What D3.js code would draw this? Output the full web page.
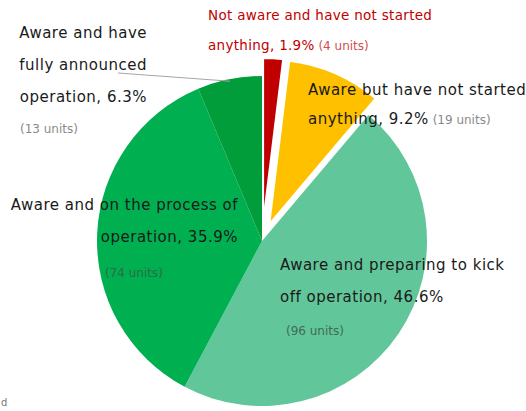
<!DOCTYPE html>
<html>
<head>
<meta charset="utf-8">
<script src="https://cdn.jsdelivr.net/npm/d3@7"></script>
<style>
  body { margin: 0; background: #fff; }
  svg { display: block; font-family: "DejaVu Sans", sans-serif; }
</style>
</head>
<body>
<div class="chart"></div>
<script>
const svgWidth = 526
const svgHeight = 411

// categories in clockwise order from 12 o'clock
const categories = [
  "Not aware and have not started anything",
  "Aware but have not started anything",
  "Aware and preparing to kick off operation",
  "Aware and on the process of operation",
  "Aware and have fully announced operation"
]
const units = [4, 19, 96, 74, 13]
const percents = ["1.9%", "9.2%", "46.6%", "35.9%", "6.3%"]
const colors = ["#c00000", "#ffc000", "#62c69b", "#00b050", "#009d3a"]
const exploded = [true, true, false, false, false]

// label text lines for each slice
const labelLines = [
  ["Not aware and have not started", "anything, 1.9%"],
  ["Aware but have not started", "anything, 9.2%"],
  ["Aware and preparing to kick", "off operation, 46.6%"],
  ["Aware and on the process of", "operation, 35.9%"],
  ["Aware and have", "fully announced", "operation, 6.3%"]
]

let cx = 262
let cy = 241
let radius = 165
let explode = 18

let svg = d3
  .select(".chart")
  .append("svg")
  .attr("width", svgWidth)
  .attr("height", svgHeight)

let pieGroup = svg.append("g")
  .attr("transform", `translate(${cx}, ${cy})`)

let pie = d3.pie().sort(null).value(d => d)
let arcs = pie(units)

let arc = d3.arc().innerRadius(0).outerRadius(radius)

function offset(d, i) {
  if (!exploded[i]) return [0, 0]
  let mid = (d.startAngle + d.endAngle) / 2
  return [Math.sin(mid) * explode, -Math.cos(mid) * explode]
}

pieGroup.selectAll("path")
  .data(arcs)
  .enter()
  .append("path")
  .attr("d", arc)
  .attr("fill", (d, i) => colors[i])
  .attr("stroke", (d, i) => exploded[i] ? "#fff" : "none")
  .attr("stroke-width", 2)
  .attr("transform", (d, i) => `translate(${offset(d, i)})`)

// leader line for the small dark green slice
let dg = arcs[4]
let dgMid = (dg.startAngle + dg.endAngle) / 2
svg.append("polyline")
  .attr("points", [
    [118, 73],
    [cx + Math.sin(dgMid) * (radius - 2), cy - Math.cos(dgMid) * (radius - 2)]
  ].join(" "))
  .attr("fill", "none")
  .attr("stroke", "#a6a6a6")
  .attr("stroke-width", 1)

// label layout: first line x, baseline y, line spacing, anchor, text colour
const labelPos = [
  { x: 208, y: 20, dy: 30, anchor: "start", color: "#c00000", size: 13.5, ls: 0.3 },
  { x: 308, y: 95, dy: 29, anchor: "start", color: "#1a1a1a", size: 15, ls: 0.5 },
  { x: 280, y: 270, dy: 32, anchor: "start", color: "#1a1a1a", size: 15, ls: 0.5 },
  { x: 238, y: 210, dy: 32, anchor: "end", color: "#1a1a1a", size: 15, ls: 0.5 },
  { x: 147, y: 38, dy: 32, anchor: "end", color: "#1a1a1a", size: 15, ls: 0.5 }
]
// where the "(n units)" note goes: inline after the last line, or on its own line
const unitPos = [
  { inline: true, color: "#d05050" },
  { inline: true, color: "#8a8a8a" },
  { x: 286, y: 335, color: "#3f6b55" },
  { x: 105, y: 277, color: "#2f6b44" },
  { x: 20, y: 133, color: "#8a8a8a" }
]

labelLines.forEach((lines, i) => {
  let p = labelPos[i]
  let u = unitPos[i]
  lines.forEach((line, j) => {
    let t = svg.append("text")
      .attr("x", p.x)
      .attr("y", p.y + j * p.dy)
      .attr("text-anchor", p.anchor)
      .attr("fill", p.color)
      .style("font-size", p.size + "px")
      .style("letter-spacing", p.ls + "px")
      .text(line)
    if (u.inline && j === lines.length - 1) {
      t.append("tspan")
        .attr("fill", u.color)
        .style("font-size", "12px")
        .style("letter-spacing", "0px")
        .text(`  (${units[i]} units)`)
    }
  })
  if (!u.inline) {
    svg.append("text")
      .attr("x", u.x)
      .attr("y", u.y)
      .attr("fill", u.color)
      .style("font-size", "12px")
      .text(`(${units[i]} units)`)
  }
})

// cropped fragment in the bottom-left corner
svg.append("text")
  .attr("x", 1)
  .attr("y", 406)
  .attr("fill", "#777")
  .style("font-size", "10px")
  .text("d")
</script>
</body>
</html>
